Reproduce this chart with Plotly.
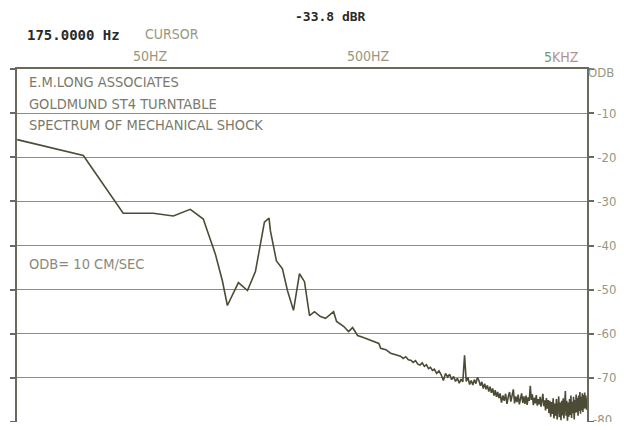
import math
import plotly.graph_objects as go

# spectrum (Hz, dB re 10 cm/sec)
freq_hz = [
    12.3, 24.7, 37.6, 51.6, 63.8, 76.3, 87.5, 99.3, 107, 112.8,
    126.7, 139.4, 151.6, 159.8, 166.7, 175, 177.6, 189.2, 201.6, 212.5,
    226.5, 241.3, 254.3, 268.2, 282.6, 301, 317.6, 345.6, 356.7, 384,
    404.8, 422.3, 445.2, 470, 510.8, 557, 567.6, 600, 630.8, 665,
    700, 720, 740, 760, 780, 800, 820, 840, 860, 880,
    900, 920, 940, 960, 980,
    1000, 1025, 1050, 1075, 1100, 1125, 1150, 1175, 1200, 1225,
    1250, 1275, 1300, 1325, 1350, 1375, 1400, 1425, 1450, 1475,
    1500, 1525, 1550, 1575, 1600, 1625, 1650, 1675, 1700, 1725,
    1750, 1775, 1800, 1825, 1850, 1875, 1900, 1925, 1950, 1975,
    2000, 2030, 2060, 2090, 2120, 2150, 2180, 2210, 2240, 2270,
    2300, 2330, 2360, 2390, 2420, 2450, 2480, 2510, 2540, 2570,
    2600, 2630, 2660, 2690, 2720, 2750, 2780, 2810, 2840, 2870,
    2900, 2930, 2960, 2990, 3020, 3050, 3080, 3110, 3140, 3170,
    3200, 3230, 3260, 3290, 3320, 3350, 3380, 3410, 3440, 3470,
    3500, 3530, 3560, 3590, 3620, 3650, 3680, 3710, 3740, 3770,
    3800, 3830, 3860, 3890, 3920, 3950, 3980, 4010, 4040, 4070,
    4100, 4130, 4160, 4190, 4220, 4250, 4280, 4310, 4340, 4370,
    4400, 4430, 4460, 4490, 4520, 4550, 4580, 4610, 4640, 4670,
    4700, 4730, 4760, 4790, 4820, 4850, 4880, 4910, 4940, 4970,
    5000,
]
level_db = [
    -16.0, -19.6, -32.7, -32.7, -33.3, -31.8, -34.0, -41.9, -48.0, -53.6,
    -48.4, -50.2, -45.9, -39.6, -34.7, -33.8, -36.7, -43.5, -45.3, -50.2,
    -54.7, -46.4, -48.2, -55.9, -55.0, -56.1, -56.5, -55.0, -57.2, -58.3,
    -59.5, -58.6, -60.4, -60.8, -61.5, -62.2, -63.3, -63.6, -64.4, -64.7,
    -65.1, -65.6, -65.2, -65.9, -66.0, -66.5, -66.1, -66.9, -67.1, -66.6,
    -67.4, -67.0, -67.9, -67.6, -68.3,
    -68.0, -69.0, -68.4, -69.3, -70.6, -69.0, -69.8, -69.2, -70.4, -69.7,
    -70.8, -70.1, -71.2, -70.3, -70.9, -64.9, -70.8, -69.9, -71.5, -70.6,
    -71.6, -70.4, -71.3, -69.9, -70.6, -71.8, -70.9, -72.4, -71.3, -72.6,
    -71.7, -73.1, -72.0, -73.4, -72.4, -74.0, -72.8, -74.3, -73.2, -74.6,
    -73.5, -75.6, -74.0, -75.2, -73.6, -75.9, -74.3, -73.2, -75.4, -74.1,
    -72.6, -75.8, -74.2, -75.5, -73.8, -76.0, -74.6, -73.5, -75.7, -74.2,
    -75.9, -74.0, -76.1, -74.4, -75.2, -71.8, -75.0, -73.7, -76.2, -74.5,
    -75.8, -73.9, -76.3, -74.8, -76.0, -74.3, -76.5, -75.0, -73.6, -76.4,
    -75.1, -77.4, -74.6, -77.0, -75.0, -78.0, -75.2, -78.8, -75.5, -78.2,
    -74.6, -79.2, -75.8, -78.6, -74.8, -79.4, -76.0, -74.2, -78.9, -75.6,
    -79.6, -75.2, -78.5, -74.6, -79.2, -75.9, -73.0, -78.6, -75.2, -79.7,
    -75.6, -78.8, -74.8, -78.4, -74.0, -79.1, -75.4, -78.0, -74.3, -79.4,
    -75.0, -77.9, -73.8, -77.8, -74.5, -78.6, -74.0, -77.5, -73.2, -78.1,
    -74.3, -77.3, -73.5, -77.7, -73.9, -77.0, -73.3, -76.9, -74.0, -77.2,
    -74.6,
]

db_ticks = [0, -10, -20, -30, -40, -50, -60, -70, -80]
db_labels = ['ODB', '-10', '-20', '-30', '-40', '-50', '-60', '-70', '-80']
freq_marks = [50, 500]
freq_labels = ['50HZ', '500HZ']
cursor_hz = 175
cursor_db = -33.8
notes = ['E.M.LONG ASSOCIATES', 'GOLDMUND ST4 TURNTABLE', 'SPECTRUM OF MECHANICAL SHOCK']

narrow = 'Liberation Sans Narrow, DejaVu Sans Condensed, Arial Narrow, sans-serif'
mono = 'DejaVu Sans Mono, Liberation Mono, monospace'
olive = '#97977f'
grid = '#8e8e7e'
frame = '#6a6a5c'

fig = go.Figure()
fig.add_trace(go.Scatter(x=freq_hz, y=level_db, mode='lines',
                         line=dict(color='#4c4b36', width=1.6),
                         hoverinfo='x+y', showlegend=False))

# cursor line
fig.add_vline(x=math.log10(cursor_hz), line_width=1, line_color='#8a8a7c')

# crossing tick marks on top and bottom border
for f in freq_marks:
    for yc in (0, 1):
        fig.add_shape(type='line', xref='x', yref='paper',
                      x0=math.log10(f), x1=math.log10(f), y0=yc - 0.017, y1=yc + 0.017,
                      line=dict(color=frame, width=1.5))

# frequency labels above the plot
for f, lab in zip(freq_marks, freq_labels):
    fig.add_annotation(x=math.log10(f), y=1, xref='x', yref='paper', yshift=13,
                       text=lab, showarrow=False, xanchor='center', yanchor='middle',
                       font=dict(family=narrow, size=14, color=olive))
fig.add_annotation(x=math.log10(5000), y=1, xref='x', yref='paper', yshift=12, xshift=-6,
                   text="<span style='color:#6e9a7a'>5</span><span style='color:#b49090'>KHZ</span>",
                   showarrow=False, xanchor='right', yanchor='middle',
                   font=dict(family=narrow, size=14, color=olive))

# end labels of the dB scale: 0 sits a little under its line, -80 runs off the bottom
fig.add_annotation(x=1.05, y=0.99, xref='paper', yref='paper', text=db_labels[0],
                   showarrow=False, xanchor='right', yanchor='middle',
                   font=dict(family=narrow, size=13, color=olive))
fig.add_annotation(x=1.0, y=0, xref='paper', yref='paper', text=db_labels[-1],
                   showarrow=False, xanchor='left', yanchor='middle', xshift=4, yshift=3,
                   font=dict(family=narrow, size=13, color=olive))

# header readouts
fig.add_annotation(x=0.014, y=1.096, xref='paper', yref='paper', text='%.4f Hz' % cursor_hz,
                   showarrow=False, xanchor='left', yanchor='middle',
                   font=dict(family=mono, size=14, color='#2a2a2a', weight='bold'))
fig.add_annotation(x=(143 - 17) / 570, y=1.099, xref='paper', yref='paper', text='CURSOR',
                   showarrow=False, xanchor='left', yanchor='middle',
                   font=dict(family=narrow, size=14, color=olive))
fig.add_annotation(x=(293 - 17) / 570, y=1.149, xref='paper', yref='paper', text='%.1f dBR' % cursor_db,
                   showarrow=False, xanchor='left', yanchor='middle',
                   font=dict(family=mono, size=13, color='#2a2a2a', weight='bold'))

# notes inside the plot
for i, t in enumerate(notes):
    fig.add_annotation(x=0.0175, y=0.963 - i * 0.061, xref='paper', yref='paper', text=t,
                       showarrow=False, xanchor='left', yanchor='middle',
                       font=dict(family=narrow, size=14.5, color='#7a7a6c'))
fig.add_annotation(x=0.0175, y=0.448, xref='paper', yref='paper', text='ODB= 10 CM/SEC',
                   showarrow=False, xanchor='left', yanchor='middle',
                   font=dict(family=narrow, size=14.5, color='#8a8a7a'))

# the page body adds an 8px margin round the figure, keep it inside the window
fig.update_layout(
    width=608, height=414,
    margin=dict(l=9, r=29, t=61, b=0),
    paper_bgcolor='white', plot_bgcolor='white',
    xaxis=dict(type='log', range=[1.089, 3.699], showgrid=False, zeroline=False,
               showline=True, linecolor=frame, linewidth=1.5, mirror=True,
               ticks='', showticklabels=False, automargin=False),
    yaxis=dict(range=[-80, 0], side='right', tickvals=db_ticks,
               ticktext=[''] + db_labels[1:-1] + [''],
               showgrid=True, gridcolor=grid, gridwidth=1, zeroline=False,
               showline=True, linecolor=frame, linewidth=1.5, mirror='ticks',
               ticks='outside', ticklen=5, tickcolor=frame, tickwidth=1.5,
               ticklabelstandoff=1, automargin=False,
               tickfont=dict(family=narrow, size=13, color=olive)),
)

fig.write_html('out.html')
